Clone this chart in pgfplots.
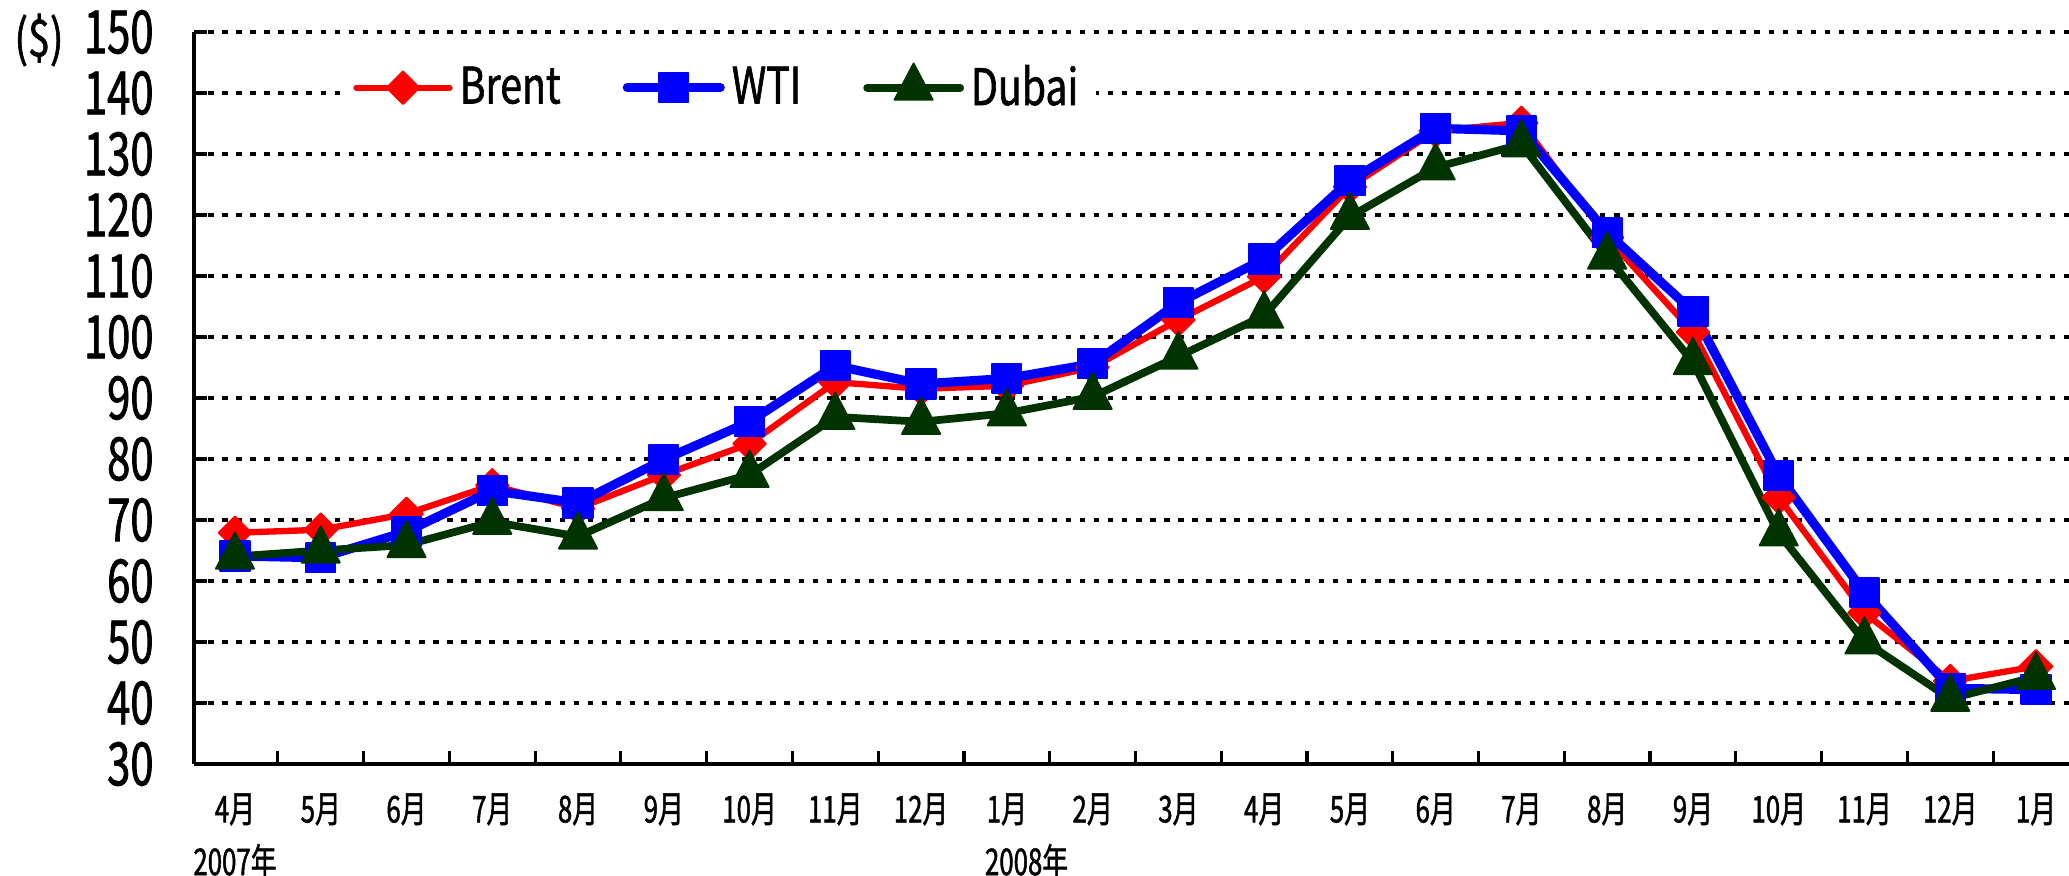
\documentclass[border=0pt]{standalone}
\usepackage{pgfplots}
\pgfplotsset{compat=1.18}
\usepackage{pgfplotstable}
\usepackage{fontspec}
\setmainfont{Noto Sans CJK JP}[FakeStretch=0.78, FakeBold=1.2]
\newfontfamily\cond{Noto Sans CJK JP}[FakeStretch=0.7, FakeBold=1.2]
\definecolor{dgreen}{RGB}{0,51,0}
\pgfplotstableread{
x y
0 67.9
1 68.4
2 71.0
3 75.7
4 71.9
5 77.4
6 82.5
7 92.6
8 91.5
9 92.0
10 95.0
11 102.8
12 109.9
13 124.6
14 133.8
15 135.1
16 116.3
17 100.8
18 73.7
19 54.8
20 43.6
21 46.0
}\brent
\pgfplotstableread{
x y
0 64.1
1 63.8
2 68.1
3 74.8
4 72.8
5 79.9
6 86.1
7 95.3
8 92.3
9 93.2
10 95.6
11 105.6
12 112.8
13 125.6
14 134.2
15 133.8
16 117.1
17 104.2
18 77.3
19 58.1
20 42.4
21 42.2
}\wti
\pgfplotstableread{
x y
0 64.0
1 65.0
2 65.9
3 69.7
4 67.3
5 73.6
6 77.4
7 86.9
8 86.1
9 87.5
10 90.2
11 96.8
12 103.5
13 119.7
14 127.8
15 131.6
16 113.2
17 95.9
18 67.8
19 50.1
20 40.7
21 44.3
}\dubai
\begin{document}
\begin{tikzpicture}
\begin{axis}[
  at={(0,0)}, anchor=south west,
  scale only axis, width=18.75cm, height=7.32cm,
  xmin=-0.478, xmax=21.385, ymin=30, ymax=150,
  axis lines=left,
  axis line style={-, line width=1pt, black},
  clip=false,
  ytick={30,40,...,150},
  xtick={0.5,1.5,...,20.5},
  xticklabels={},
  extra x ticks={0,1,...,21},
  extra x tick labels={4月,5月,6月,7月,8月,9月,10月,11月,12月,1月,2月,3月,4月,5月,6月,7月,8月,9月,10月,11月,12月,1月},
  extra x tick style={major tick length=0pt, grid=none},
  tick align=inside,
  major tick length=0.13cm,
  tick style={black, line width=0.9pt},
  ymajorgrids,
  grid style={black, line width=1.2pt, dash pattern=on 1.6pt off 2.4pt},
  /pgf/number format/assume math mode=true,
  yticklabel style={font=\cond\fontsize{17}{19}\selectfont, xshift=-0.28cm},
  xticklabel style={font=\cond\fontsize{10.5}{12}\selectfont, yshift=-0.17cm},
  legend style={at={(0.079,0.975)}, anchor=north west, draw=none, fill=white,
    font=\fontsize{14.3}{17}\selectfont, legend columns=3,
    /tikz/every even column/.append style={column sep=0.55cm}},
  legend image code/.code={\draw[mark repeat=2,mark phase=2,#1] plot coordinates {(0cm,0cm) (0.465cm,0cm) (0.93cm,0cm)};},
]
\addplot[color=red, line width=1.8pt, line cap=round, line join=round, mark=square*, mark size=3.3pt, mark options={solid, fill=red, rotate=45, line width=0.5pt}] table[x=x,y=y] {\brent};
\addlegendentry{Brent}
\addplot[color=blue, line width=2.6pt, line cap=round, line join=round, mark=square*, mark size=4.2pt, mark options={solid, fill=blue, line width=0.5pt}] table[x=x,y=y] {\wti};
\addlegendentry{WTI}
\addplot[color=dgreen, line width=2.2pt, line cap=round, line join=round, mark=triangle*, mark size=6.3pt, mark options={solid, fill=dgreen, line width=0.5pt, yscale=1.1}] table[x=x,y=y] {\dubai};
\addlegendentry{Dubai}
\node[font=\fontsize{14.5}{16}\selectfont] at ([xshift=-1.55cm,yshift=-0.08cm]rel axis cs:0,1) {(\$)};
\node[font=\cond\fontsize{10.5}{12}\selectfont, inner sep=0pt] at ([yshift=-0.97cm]axis cs:0,30) {2007年};
\node[font=\cond\fontsize{10.5}{12}\selectfont, inner sep=0pt] at ([yshift=-0.97cm]axis cs:9.23,30) {2008年};
\end{axis}
\pgfresetboundingbox
\path[use as bounding box] (-1.94cm,-1.12cm) rectangle (18.75cm,7.64cm);
\end{tikzpicture}
\end{document}
